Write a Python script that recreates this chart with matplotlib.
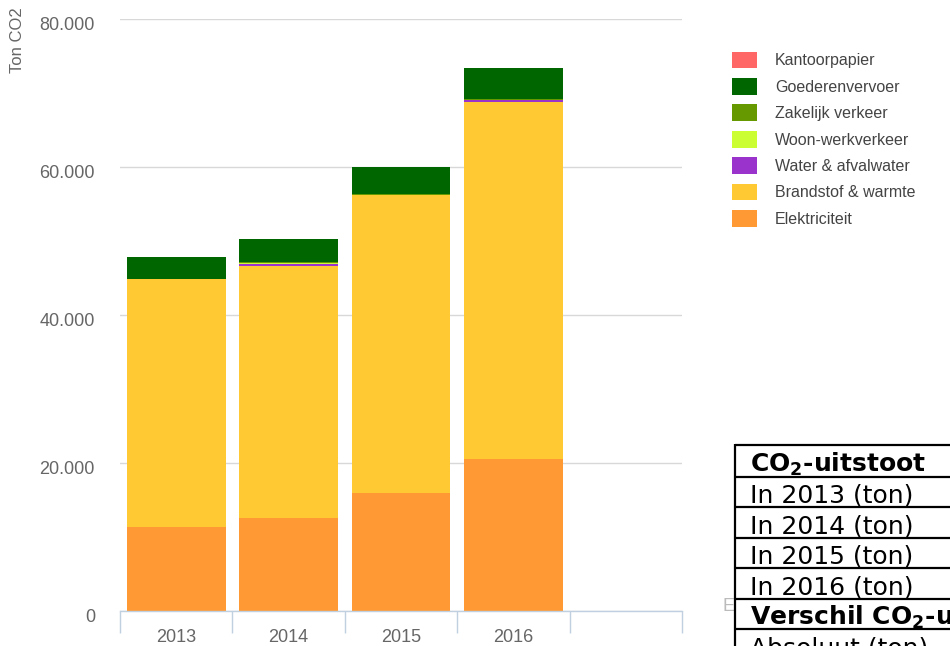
import numpy as np
from matplotlib import pyplot as plt
from matplotlib.transforms import ScaledTranslation

plt.rc('font', family='Liberation Sans')

# data (ton CO2)
years = ['2013', '2014', '2015', '2016']
elektriciteit = [11400, 12570, 15940, 20540]
brandstof = [33420, 34080, 40260, 48290]
water = [0, 230, 0, 200]
woon_werk = [60, 80, 60, 50]
zakelijk = [0, 150, 40, 100]
goederen = [2910, 3150, 3650, 4140]
kantoorpapier = [0, 0, 0, 0]

yticks = [0, 20000, 40000, 60000, 80000]

table_rows = [r'$\mathbf{CO_2}$-uitstoot', 'In 2013 (ton)', 'In 2014 (ton)', 'In 2015 (ton)',
              'In 2016 (ton)', r'Verschil $\mathbf{CO_2}$-uitstoot', 'Absoluut (ton)']
table_bold = [True, False, False, False, False, True, False]

series = [('Elektriciteit', elektriciteit, '#ff9933'),
          ('Brandstof & warmte', brandstof, '#ffc933'),
          ('Water & afvalwater', water, '#9933cc'),
          ('Woon-werkverkeer', woon_werk, '#ccff33'),
          ('Zakelijk verkeer', zakelijk, '#669900'),
          ('Goederenvervoer', goederen, '#006600'),
          ('Kantoorpapier', kantoorpapier, '#ff6666')]

W, H = 950, 646
fig = plt.figure(figsize=(W / 100, H / 100), dpi=100)
ax = fig.add_axes([120 / W, 35 / H, 562 / W, 592 / H])

index = np.arange(len(years))
bottom = np.zeros(len(years))
handles = []
for name, vals, col in series:
    rec = ax.bar(index, vals, 0.88, bottom=bottom, color=col, linewidth=0, label=name, zorder=2)
    handles.append(rec)
    bottom += np.array(vals)

ax.set_xlim(-0.5, 4.5)
ax.set_ylim(0, 80000)
ax.set_yticks(yticks)
ax.set_yticklabels(['{:,}'.format(v).replace(',', '.') for v in yticks])
ax.yaxis.grid(True, color='#d8d8d8', linewidth=1)
ax.set_axisbelow(True)
ax.tick_params(axis='y', length=0, pad=18, labelsize=13, labelcolor='#666666')
for lab in ax.get_yticklabels():
    lab.set_transform(lab.get_transform() + ScaledTranslation(0, -0.04, fig.dpi_scale_trans))

ax.set_xticks(index)
ax.set_xticklabels(years)
ax.set_xticks(np.arange(-0.5, 5), minor=True)
ax.tick_params(axis='x', which='major', length=0, pad=13, labelsize=13, labelcolor='#666666')
ax.tick_params(axis='x', which='minor', length=16, width=1, color='#c0d0e0', direction='out')

for s in ['left', 'top', 'right']:
    ax.spines[s].set_visible(False)
ax.spines['bottom'].set_color('#c0d0e0')
ax.spines['bottom'].set_linewidth(1)

fig.text(18 / W, 1 - 40 / H, 'Ton CO2', rotation=90, ha='center', va='center',
         fontsize=12, color='#666666')

# legend, top series first
fs = 11.5 * 100 / 72.
fig.legend(handles[::-1], [s[0] for s in series][::-1], loc='upper left',
           bbox_to_anchor=(732 / W, 1 - 51.5 / H), bbox_transform=fig.transFigure,
           frameon=False, fontsize=11.5, labelcolor='#444444',
           handlelength=25 / fs, handleheight=20 / fs, handletextpad=18 / fs,
           labelspacing=9.5 / fs, borderpad=0, borderaxespad=0)

# overlay with the pasted table (pixel coordinates)
ov = fig.add_axes([0, 0, 1, 1])
ov.set_xlim(0, W)
ov.set_ylim(H, 0)
ov.axis('off')

ov.text(722, 611, 'E', fontsize=13, color='#bbbbbb', va='baseline', zorder=1)
ov.fill_between([735, 960], 445, 700, color='white', zorder=2)

row_lines = [445, 476.7, 507, 537.7, 568, 599, 629, 660]
for yl in row_lines:
    ov.plot([735, 960], [yl, yl], color='black', linewidth=1.6, solid_capstyle='butt', zorder=3)
ov.plot([735, 735], [444.2, 700], color='black', linewidth=1.6, solid_capstyle='butt', zorder=3)

for i in range(len(table_rows)):
    ov.text(750, row_lines[i + 1] - 4.5, table_rows[i], fontsize=18, family='DejaVu Sans',
            fontweight='bold' if table_bold[i] else 'normal', va='baseline', ha='left',
            color='black', zorder=4)

plt.savefig('out.png', dpi=100)
